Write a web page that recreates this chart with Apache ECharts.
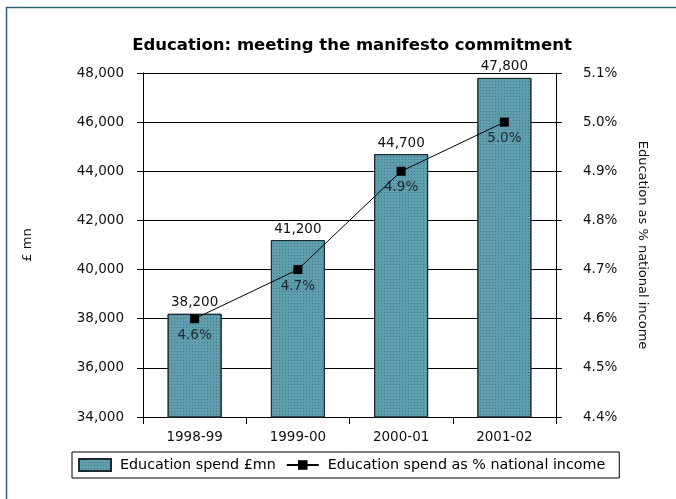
<!DOCTYPE html>
<html><head><meta charset="utf-8">
<script src="https://cdn.jsdelivr.net/npm/echarts@6/dist/echarts.min.js"></script>
<style>html,body{margin:0;padding:0;background:#fff}#c{width:676px;height:499px}</style>
</head><body><div id="c"></div>
<script>
const categories = ['1998-99', '1999-00', '2000-01', '2001-02'];
const spend = [38200, 41200, 44700, 47800];
const pctIncome = [4.6, 4.7, 4.9, 5.0];
const leftTicks = [34000, 36000, 38000, 40000, 42000, 44000, 46000, 48000];
const rightTicks = [4.4, 4.5, 4.6, 4.7, 4.8, 4.9, 5.0, 5.1];

const FONT = 'DejaVu Sans, Verdana, sans-serif';
const chart = echarts.init(document.getElementById('c'), null, {renderer: 'canvas'});
chart.setOption({
  animation: false,
  backgroundColor: '#fff',
  graphic: [{
    type: 'rect', shape: {x: 6.5, y: 7.5, width: 700, height: 600},
    style: {fill: 'none', stroke: '#2b5f73', lineWidth: 1.5}, silent: true
  }],
  title: {
    text: 'Education: meeting the manifesto commitment',
    left: 347, top: 32, textAlign: 'center',
    textStyle: {fontFamily: FONT, fontSize: 16.5, fontWeight: 'bold', color: '#000'}
  },
  grid: {left: 143, right: 120, top: 73, bottom: 82, containLabel: false},
  legend: {
    left: 72, top: 452,
    data: [{name: 'Education spend £mn', icon: 'rect'}, {name: 'Education spend as % national income'}],
    borderColor: '#000', borderWidth: 1, borderRadius: 0,
    padding: [6, 14, 6, 6], itemGap: 10, itemWidth: 32, itemHeight: 12,
    textStyle: {fontFamily: FONT, fontSize: 14.3, color: '#000', padding: [0, 0, 0, 4]}
  },
  xAxis: {
    type: 'category', data: categories,
    axisLine: {show: true, lineStyle: {color: '#000', width: 1}},
    axisTick: {show: true, alignWithLabel: false, length: 7, inside: false, lineStyle: {color: '#000'}},
    axisLabel: {fontFamily: FONT, fontSize: 13.5, color: '#111', margin: 13}
  },
  yAxis: [{
    type: 'value', min: 34000, max: 48000, interval: 2000, position: 'left',
    name: '£ mn', nameLocation: 'middle', nameGap: 109, nameRotate: 90,
    nameTextStyle: {fontFamily: FONT, fontSize: 13, color: '#111'},
    axisLine: {show: true, lineStyle: {color: '#000'}},
    axisTick: {show: true, length: 6, lineStyle: {color: '#000'}},
    splitLine: {show: true, lineStyle: {color: '#000', width: 1}},
    axisLabel: {fontFamily: FONT, fontSize: 13.5, color: '#111', margin: 19,
      formatter: v => v.toLocaleString('en-GB')}
  }, {
    type: 'value', min: 4.4, max: 5.1, interval: 0.1, position: 'right',
    name: 'Education as % national income', nameLocation: 'middle', nameGap: 80, nameRotate: -90,
    nameTextStyle: {fontFamily: FONT, fontSize: 13, color: '#111'},
    axisLine: {show: true, lineStyle: {color: '#000'}},
    axisTick: {show: true, length: 6, lineStyle: {color: '#000'}},
    splitLine: {show: false},
    axisLabel: {fontFamily: FONT, fontSize: 13.5, color: '#111', margin: 27,
      formatter: v => v.toFixed(1) + '%'}
  }],
  series: [{
    name: 'Education spend £mn', type: 'bar', yAxisIndex: 0, data: spend,
    barWidth: 54,
    itemStyle: {
      color: '#5f9eab', borderColor: '#1a2a30', borderWidth: 1,
      decal: {symbol: 'rect', symbolSize: 1, dashArrayX: [1, 2], dashArrayY: [1, 2], color: 'rgba(40,60,140,0.45)'}
    },
    label: {show: true, position: 'top', distance: 4, fontFamily: FONT, fontSize: 13.5, color: '#111',
      formatter: p => p.value.toLocaleString('en-GB')}
  }, {
    name: 'Education spend as % national income', type: 'line', yAxisIndex: 1, data: pctIncome,
    symbol: 'rect', symbolSize: 9,
    lineStyle: {color: '#000', width: 1},
    itemStyle: {color: '#000'},
    label: {show: true, position: 'bottom', distance: 5, fontFamily: FONT, fontSize: 13.5, color: '#1a2a30',
      formatter: p => p.value.toFixed(1) + '%'}
  }]
});
</script></body></html>
